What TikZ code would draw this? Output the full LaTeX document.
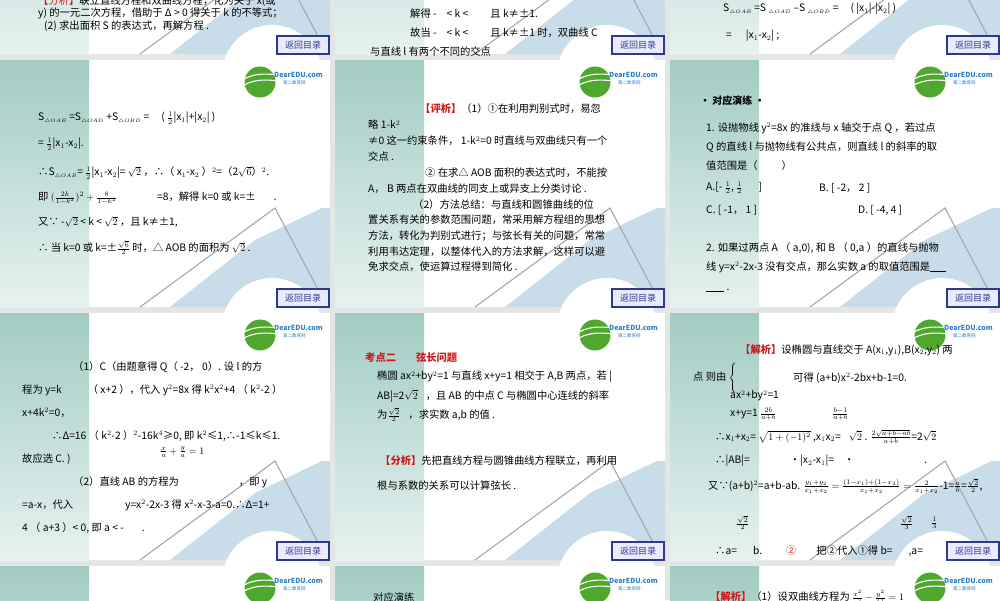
\documentclass[tikz,border=0pt]{standalone}
\usepackage{fontspec}
\setmainfont{Noto Sans CJK SC}
\usetikzlibrary{shadings}
\definecolor{bgg}{HTML}{E4E6E6}
\definecolor{teal1}{HTML}{A2CCC3}
\definecolor{teal2}{HTML}{E6F2F0}
\definecolor{deco}{HTML}{C9DCEA}
\definecolor{lineg}{HTML}{9DA9B4}
\definecolor{btnb}{HTML}{2B3A8C}
\definecolor{redt}{HTML}{D01818}
\definecolor{logog}{HTML}{4FA82E}
\definecolor{logob}{HTML}{2E7FC8}
\newcommand\mkslide[2]{%
\begin{scope}[shift={(#1,#2)}]
\fill[white] (0,0) rectangle (330,247);
\shade[top color=teal1,bottom color=teal2] (0,0) rectangle (89,247);
\fill[deco] (170,247) -- (255,180) -- (322,148) -- (330,148) -- (330,247) -- cycle;
\fill[white] (272,268) circle (50);
\draw[lineg,line width=1.1pt] (140,247) -- (275,148) -- (322,237);
\fill[logog] (260,22) circle (15.5);
\draw[white,line width=1.1pt] (244,19) .. controls (255,13) and (268,13) .. (284,16);
\draw[white,line width=1.1pt] (244,25) .. controls (255,19) and (268,19) .. (284,22);
\node[anchor=west,inner sep=0,text=logob,font=\bfseries\fontsize{7}{7}\selectfont] at (274,15) {DearEDU.com};
\node[anchor=west,inner sep=0,text=logob,font=\fontsize{4.5}{4.5}\selectfont] at (283,23) {第二教育网};
\draw[btnb,fill=white!92!blue,line width=1.3pt] (277,229) rectangle (329,247);
\node[inner sep=0,text=btnb,font=\fontsize{9}{9}\selectfont] at (303,238) {返回目录};
\end{scope}}
\tikzset{t/.style={anchor=west,inner sep=0,font=\fontsize{10.3}{12}\selectfont},
 r/.style={t,text=redt,font=\bfseries\fontsize{10.3}{12}\selectfont}}
\begin{document}
\begin{tikzpicture}[x=1pt,y=-1pt]
\useasboundingbox (0,0) rectangle (1000,600);
\clip (0,0) rectangle (1000,600);
\fill[bgg] (0,0) rectangle (1000,600);
\foreach \ox in {0,335,670}{
 \foreach \oy in {-193,60,313,566}{\mkslide{\ox}{\oy}}}
% top row
\node[t] at (38,1) {\textcolor{redt}{【分析】}联立直线方程和双曲线方程，化为关于 x(或};
\node[t] at (38,13) {y) 的一元二次方程，借助于 Δ > 0 得关于 k 的不等式；};
\node[t] at (44,26) {(2) 求出面积 S 的表达式，再解方程 .};
\node[t] at (410,14) {解得 -\hspace{10pt}< k <\hspace{22pt}且 k≠±1.};
\node[t] at (410,33) {故当 -\hspace{10pt}< k <\hspace{22pt}且 k≠±1 时，双曲线 C};
\node[t] at (370,52) {与直线 l 有两个不同的交点};
\node[t] at (723,9) {S$_{\scriptscriptstyle\triangle OAB}$ =S $_{\scriptscriptstyle\triangle OAD}$ –S $_{\scriptscriptstyle\triangle OBD}$ =\hspace{12pt}( |x$_1$|-|x$_2$| )};
\node[t] at (726,36) {=\hspace{14pt}|x$_1$-x$_2$| ;};
% row1 col1
\node[t] at (38,118) {S$_{\scriptscriptstyle\triangle OAB}$ =S$_{\scriptscriptstyle\triangle OAD}$ +S$_{\scriptscriptstyle\triangle OBD}$ =\hspace{12pt}( $\frac{1}{2}$|x$_1$|+|x$_2$| )};
\node[t] at (38,144) {= $\frac{1}{2}$|x$_1$-x$_2$|.};
\node[t] at (38,173) {∴S$_{\scriptscriptstyle\triangle OAB}$= $\frac12$|x$_1$-x$_2$|= $\sqrt2$ ，∴（ x$_1$-x$_2$ ）$^2$=（2$\sqrt6$）$^2$.};
\node[t] at (38,198) {即 $(\frac{2k}{1-k^2})^2+\frac{8}{1-k^2}$\hspace{40pt}=8，解得 k=0 或 k=±\hspace{18pt}.};
\node[t] at (38,222) {又∵ -$\sqrt2$ < k < $\sqrt2$ ，且 k≠±1,};
\node[t] at (38,248) {∴ 当 k=0 或 k=±$\frac{\sqrt6}{2}$ 时，△ AOB 的面积为 $\sqrt2$ .};
% row1 col2
\node[t] at (420,109) {\textcolor{redt}{\bfseries【评析】}（1）①在利用判别式时，易忽};
\node[t] at (368,125) {略 1-k$^2$};
\node[t] at (368,141) {≠0 这一约束条件， 1-k$^2$=0 时直线与双曲线只有一个};
\node[t] at (368,157) {交点 .};
\node[t] at (425,173) {② 在求△ AOB 面积的表达式时，不能按};
\node[t] at (368,189) {A， B 两点在双曲线的同支上或异支上分类讨论 .};
\node[t] at (413,205) {（2）方法总结：与直线和圆锥曲线的位};
\node[t] at (368,220) {置关系有关的参数范围问题，常采用解方程组的思想};
\node[t] at (368,236) {方法，转化为判别式进行；与弦长有关的问题，常常};
\node[t] at (368,252) {利用韦达定理，以整体代入的方法求解，这样可以避};
\node[t] at (368,267) {免求交点，使运算过程得到简化 .};
% row1 col3
\node[t,font=\bfseries\itshape\fontsize{10}{12}\selectfont] at (700,101) {• 对应演练 •};
\node[t] at (706,128) {1. 设抛物线 y$^2$=8x 的准线与 x 轴交于点 Q ，若过点};
\node[t] at (706,147) {Q 的直线 l 与抛物线有公共点，则直线 l 的斜率的取};
\node[t] at (706,166) {值范围是（\hspace{24pt}）};
\node[t] at (706,188) {A.[- $\frac12$, $\frac12$\hspace{16pt}]};
\node[t] at (819,188) {B. [ -2， 2 ]};
\node[t] at (706,210) {C. [ -1， 1 ]};
\node[t] at (858,210) {D. [ -4, 4 ]};
\node[t] at (706,248) {2. 如果过两点 A （ a,0), 和 B （ 0,a ）的直线与抛物};
\node[t] at (706,267) {线 y=x$^2$-2x-3 没有交点，那么实数 a 的取值范围是\rule[-1pt]{16pt}{0.4pt}};
\node[t] at (706,290) {\rule[-1pt]{18pt}{0.4pt} .};
% row2 col1
\node[t] at (73,367) {（1）C（由题意得 Q（ -2， 0）. 设 l 的方};
\node[t] at (22,390) {程为 y=k\hspace{26pt}（ x+2 ），代入 y$^2$=8x 得 k$^2$x$^2$+4 （ k$^2$-2 ）};
\node[t] at (22,413) {x+4k$^2$=0，};
\node[t] at (52,436) {∴Δ=16 （ k$^2$-2 ）$^2$-16k$^4$≥0, 即 k$^2$≤1,∴-1≤k≤1.};
\node[t] at (22,459) {故应选 C. )};
\node[t] at (160,452) {$\frac{x}{a}+\frac{y}{a}=1$};
\node[t] at (73,482) {（2）直线 AB 的方程为\hspace{60pt}，即 y};
\node[t] at (22,505) {=a-x，代入\hspace{52pt}y=x$^2$-2x-3 得 x$^2$-x-3-a=0.∴Δ=1+};
\node[t] at (22,528) {4 （ a+3 ）< 0, 即 a < -\hspace{18pt}.};
% row2 col2
\node[r] at (365,358) {考点二\hspace{20pt}弦长问题};
\node[t] at (377,377) {椭圆 ax$^2$+by$^2$=1 与直线 x+y=1 相交于 A,B 两点，若 |};
\node[t] at (377,396) {AB|=2$\sqrt2$\hspace{8pt}，且 AB 的中点 C 与椭圆中心连线的斜率};
\node[t] at (377,415) {为$\frac{\sqrt2}{2}$\hspace{8pt}，求实数 a,b 的值 .};
\node[t] at (380,461) {\textcolor{redt}{\bfseries【分析】}先把直线方程与圆锥曲线方程联立，再利用};
\node[t] at (377,486) {根与系数的关系可以计算弦长 .};
% row2 col3
\node[t] at (740,350) {\textcolor{redt}{\bfseries【解析】}设椭圆与直线交于 A(x$_1$,y$_1$),B(x$_2$,y$_2$) 两};
\node[t] at (693,378) {点 则由 $\Bigg\{$};
\node[t] at (730,396) {ax$^2$+by$^2$=1};
\node[t] at (793,378) {可得 (a+b)x$^2$-2bx+b-1=0.};
\node[t] at (730,414) {x+y=1 $\frac{2b}{a+b}$};
\node[t] at (832,414) {$\frac{b-1}{a+b}$};
\node[t] at (715,437) {∴x$_1$+x$_2$= $\sqrt{1+(-1)^2}$ ,x$_1$x$_2$=\hspace{8pt}$\sqrt2$ . $\frac{2\sqrt{a+b-ab}}{a+b}$=2$\sqrt2$};
\node[t] at (715,461) {∴|AB|=\hspace{40pt}·|x$_2$-x$_1$|=\hspace{10pt}·\hspace{70pt}.};
\node[t] at (708,486) {又∵(a+b)$^2$=a+b-ab. $\frac{y_1+y_2}{x_1+x_2}=\frac{(1-x_1)+(1-x_2)}{x_1+x_2}=\frac{2}{x_1+x_2}$-1=$\frac{a}{b}$=$\frac{\sqrt2}{2}$,};
\node[t] at (736,523) {$\frac{\sqrt2}{2}$};
\node[t] at (900,523) {$\frac{\sqrt2}{3}$};
\node[t] at (931,523) {$\frac13$};
\node[t] at (715,551) {∴a=\hspace{16pt}b.\hspace{24pt}\textcolor{redt}{②}\hspace{20pt}把②代入①得 b=\hspace{16pt},a=};
% bottom partial
\node[t] at (710,597) {\textcolor{redt}{\bfseries【解析】}（1）设双曲线方程为 $\frac{x^2}{a^2}-\frac{y^2}{b^2}=1$};
\node[t] at (373,598) {对应演练};
\end{tikzpicture}
\end{document}
